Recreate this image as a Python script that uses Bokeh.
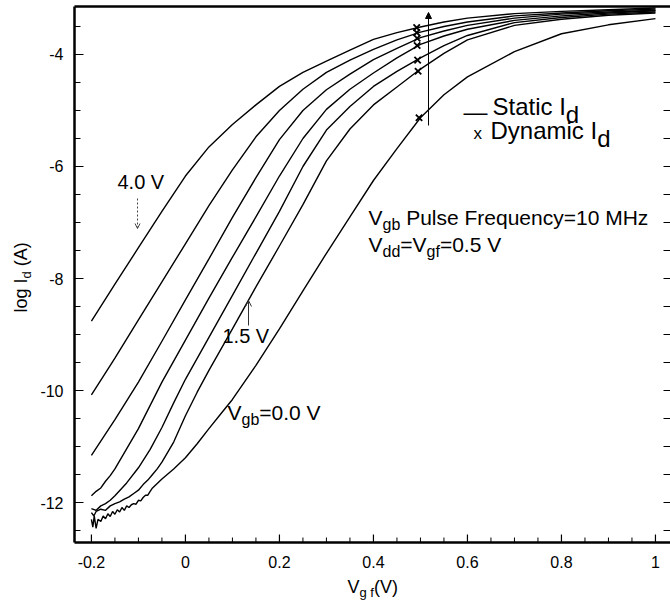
import math
from bokeh.plotting import figure
from bokeh.models import Range1d, Label, Arrow, NormalHead, OpenHead
from bokeh.embed import file_html
from bokeh.resources import INLINE

# ---------------- data ----------------
vgb_names = ["4.0 V", "3.5 V", "3.0 V", "2.5 V", "2.0 V", "1.5 V", "0.0 V"]

vgf_common = [-0.2, -0.15, -0.1, -0.05, 0.0, 0.05, 0.1, 0.15, 0.2, 0.25, 0.3, 0.35,
              0.4, 0.45, 0.5, 0.55, 0.6, 0.7, 0.8, 0.9, 1.0]
log_id_4v0 = [-8.76, -8.10, -7.45, -6.80, -6.17, -5.65, -5.25, -4.90, -4.57, -4.32, -4.12, -3.92,
              -3.73, -3.61, -3.51, -3.42, -3.35, -3.27, -3.23, -3.20, -3.17]
log_id_3v5 = [-10.08, -9.42, -8.74, -8.06, -7.38, -6.70, -6.06, -5.47, -5.00, -4.62, -4.32, -4.10,
              -3.91, -3.74, -3.60, -3.50, -3.42, -3.31, -3.26, -3.22, -3.19]
log_id_3v0 = [-11.16, -10.52, -9.85, -9.12, -8.38, -7.65, -6.91, -6.20, -5.52, -5.00, -4.63, -4.35,
              -4.09, -3.89, -3.70, -3.58, -3.48, -3.35, -3.28, -3.24, -3.21]

vgf_2v5 = [-0.2, -0.19, -0.18, -0.17, -0.16, -0.15, -0.1, -0.05, 0.0, 0.05, 0.1, 0.15, 0.2, 0.25,
           0.3, 0.35, 0.4, 0.45, 0.5, 0.55, 0.6, 0.7, 0.8, 0.9, 1.0]
log_id_2v5 = [-11.88, -11.80, -11.74, -11.62, -11.52, -11.40, -10.68, -9.85, -9.10, -8.35, -7.62,
              -6.90, -6.17, -5.50, -4.98, -4.62, -4.33, -4.06, -3.82, -3.67, -3.55, -3.39, -3.31,
              -3.26, -3.22]

vgf_2v0 = [-0.2, -0.19, -0.18, -0.17, -0.16, -0.15, -0.125, -0.1, -0.075, -0.05, -0.025, 0.0, 0.05,
           0.1, 0.15, 0.2, 0.25, 0.3, 0.35, 0.4, 0.45, 0.5, 0.55, 0.6, 0.7, 0.8, 0.9, 1.0]
log_id_2v0 = [-12.11, -12.14, -12.06, -12.02, -11.96, -11.88, -11.65, -11.38, -11.05, -10.66, -10.22,
              -9.80, -9.05, -8.30, -7.55, -6.80, -6.00, -5.35, -4.93, -4.57, -4.30, -4.06, -3.84,
              -3.66, -3.43, -3.34, -3.28, -3.24]

vgf_1v5 = [-0.2, -0.195, -0.19, -0.18, -0.17, -0.16, -0.15, -0.14, -0.13, -0.12, -0.11, -0.1, -0.09,
           -0.08, -0.07, -0.06, -0.05, -0.025, 0.0, 0.025, 0.05, 0.1, 0.15, 0.2, 0.25, 0.3, 0.35,
           0.4, 0.45, 0.5, 0.55, 0.6, 0.7, 0.8, 0.9, 1.0]
log_id_1v5 = [-12.18, -12.24, -12.16, -12.12, -12.14, -12.06, -12.02, -11.99, -11.94, -11.90, -11.84,
              -11.78, -11.68, -11.60, -11.50, -11.40, -11.28, -10.92, -10.45, -10.03, -9.64, -8.90,
              -8.15, -7.42, -6.68, -5.90, -5.33, -4.90, -4.58, -4.26, -3.98, -3.74, -3.48, -3.37,
              -3.30, -3.26]

vgf_0v0 = [-0.2, -0.197, -0.194, -0.19, -0.186, -0.18, -0.175, -0.17, -0.165, -0.16, -0.155, -0.15,
           -0.145, -0.14, -0.135, -0.13, -0.125, -0.12, -0.115, -0.11, -0.105, -0.1, -0.095, -0.09,
           -0.085, -0.08, -0.075, -0.07, -0.06, -0.05, -0.025, 0.0, 0.025, 0.05, 0.075, 0.1, 0.15,
           0.2, 0.25, 0.3, 0.35, 0.4, 0.45, 0.5, 0.55, 0.6, 0.7, 0.8, 0.9, 1.0]
log_id_0v0 = [-12.30, -12.44, -12.24, -12.46, -12.30, -12.34, -12.24, -12.29, -12.20, -12.25, -12.16,
              -12.21, -12.13, -12.17, -12.09, -12.14, -12.06, -12.09, -12.04, -12.02, -12.03, -11.96,
              -11.97, -11.91, -11.87, -11.87, -11.80, -11.74, -11.66, -11.58, -11.40, -11.20, -10.95,
              -10.68, -10.42, -10.16, -9.55, -8.90, -8.22, -7.55, -6.90, -6.25, -5.68, -5.13, -4.72,
              -4.40, -3.95, -3.63, -3.47, -3.36]

dyn_vgf = [0.492, 0.492, 0.493, 0.493, 0.494, 0.495, 0.497]
dyn_log_id = [-3.52, -3.61, -3.71, -3.84, -4.10, -4.30, -5.13]

x_ticks = [-0.2, 0.0, 0.2, 0.4, 0.6, 0.8, 1.0]
x_tick_labels = ["-0.2", "0", "0.2", "0.4", "0.6", "0.8", "1"]
x_minor = [-0.15, -0.1, -0.05, 0.05, 0.1, 0.15, 0.25, 0.3, 0.35, 0.45, 0.5, 0.55, 0.65, 0.7, 0.75,
           0.85, 0.9, 0.95]
y_ticks = [-12.0, -10.0, -8.0, -6.0, -4.0]
y_tick_labels = ["-12", "-10", "-8", "-6", "-4"]
y_minor = [-12.5, -11.5, -11.0, -10.5, -9.5, -9.0, -8.5, -7.5, -7.0, -6.5, -5.5, -5.0, -4.5, -3.5]

curves = [
    (vgf_common, log_id_4v0),
    (vgf_common, log_id_3v5),
    (vgf_common, log_id_3v0),
    (vgf_2v5, log_id_2v5),
    (vgf_2v0, log_id_2v0),
    (vgf_1v5, log_id_1v5),
    (vgf_0v0, log_id_0v0),
]

# ---------------- geometry ----------------
FONT = "Liberation Sans"
W, H = 670, 603
LEFT, TOP, RIGHT_EDGE, BOTTOM = 74, 6, 670, 542      # plot box edges in page pixels
X0, X1 = -0.236, 1.032                               # data values at the box edges
Y0, Y1 = -12.714, -3.143
PX = (X1 - X0) / (RIGHT_EDGE - LEFT)                 # data units per pixel
PY = (Y1 - Y0) / (BOTTOM - TOP)


def dx(px):
    return X0 + (px - LEFT) * PX


def dy(py):
    return Y1 - (py - TOP) * PY


# one frame covering the whole page, so nothing outside the box gets clipped
p = figure(width=W, height=H, x_range=Range1d(dx(0), dx(W)), y_range=Range1d(dy(H), dy(0)),
           output_backend="svg", toolbar_location=None, min_border=0,
           x_axis_location=None, y_axis_location=None)
p.background_fill_color = "white"
p.border_fill_color = "white"
p.outline_line_color = None
p.grid.visible = False

# ---------------- axes (box, ticks, tick labels) ----------------
BLK = "black"
n, m = len(x_ticks), len(y_ticks)
p.segment(x0=x_ticks, y0=[Y0] * n, x1=x_ticks, y1=[Y0 + 8 * PY] * n, line_color=BLK, line_width=1.2)
p.segment(x0=x_minor, y0=[Y0] * len(x_minor), x1=x_minor, y1=[Y0 + 5 * PY] * len(x_minor),
          line_color=BLK, line_width=1.0)
p.segment(x0=[X0] * m, y0=y_ticks, x1=[X0 + 9 * PX] * m, y1=y_ticks, line_color=BLK, line_width=1.2)
p.segment(x0=[X0] * len(y_minor), y0=y_minor, x1=[X0 + 6 * PX] * len(y_minor), y1=y_minor,
          line_color=BLK, line_width=1.0)
right_ticks = y_ticks + y_minor
p.segment(x0=[X1 - 7 * PX] * len(right_ticks), y0=right_ticks, x1=[X1] * len(right_ticks),
          y1=right_ticks, line_color=BLK, line_width=1.0)
p.segment(x0=[X0, X0, X0], y0=[Y0, Y0, Y1], x1=[X1, X0, X1], y1=[Y0, Y1, Y1],
          line_color=BLK, line_width=2.5)

for t, s in zip(x_ticks, x_tick_labels):
    p.add_layout(Label(x=t, y=dy(561), text=s, text_font=FONT, text_font_size="16px",
                       text_color=BLK, text_align="center", text_baseline="middle"))
for t, s in zip(y_ticks, y_tick_labels):
    p.add_layout(Label(x=dx(63), y=t, text=s, text_font=FONT, text_font_size="16px",
                       text_color=BLK, text_align="right", text_baseline="middle"))

# ---------------- curves and dynamic points ----------------
for xs, ys in curves:
    p.line(xs, ys, line_color=BLK, line_width=1.4)

p.scatter(dyn_vgf, dyn_log_id, marker="x", size=9, line_color=BLK, line_width=1.8)

# ---------------- texts ----------------
CW = {" ": 278, "(": 333, ")": 333, ".": 278, "=": 584, "-": 333, "A": 667, "D": 722, "F": 611,
      "H": 722, "I": 278, "M": 833, "P": 667, "S": 667, "V": 667, "a": 556, "b": 556, "c": 500,
      "d": 556, "e": 556, "f": 278, "g": 556, "i": 222, "l": 222, "m": 833, "n": 556, "o": 556,
      "q": 556, "r": 333, "s": 500, "t": 278, "u": 556, "y": 500, "z": 500, "x": 500, "—": 1000}
for ch in "0123456789":
    CW[ch] = 556


def text_width(t, size):
    return sum(CW.get(c, 556) for c in t) * size / 1000.0


def add_text(parts, px, py, angle=0.0):
    """parts: (text, font px, baseline drop px); (px, py) = start of the first baseline."""
    cur = 0.0
    for text, size, drop in parts:
        body = text.lstrip(" ")
        cur += text_width(text[:len(text) - len(body)], size)
        if angle == 0.0:
            lx, ly = px + cur, py + drop - 0.358 * size
        else:
            lx, ly = px + drop - 0.358 * size, py - cur
        p.add_layout(Label(x=dx(lx), y=dy(ly), text=body, text_font=FONT,
                           text_font_size=f"{size}px", text_color=BLK,
                           text_align="left", text_baseline="middle", angle=angle))
        cur += text_width(body, size)


add_text([("4.0 V", 20, 0)], 117, 189)
add_text([("1.5 V", 20, 0)], 222, 343)
add_text([("V", 21, 0), ("gb", 16, 5), ("=0.0 V", 21, 0)], 227, 420)
add_text([("V", 21, 0), ("gb", 16, 5), (" Pulse Frequency=10 MHz", 21, 0)], 368, 225)
add_text([("V", 21, 0), ("dd", 16, 5), ("=V", 21, 0), ("gf", 16, 5), ("=0.5 V", 21, 0)], 368, 252)
add_text([("—", 24, 0)], 463, 120)
add_text([("Static I", 24, 0), ("d", 24, 8)], 492, 115)
add_text([("x", 17, 0)], 473, 139)
add_text([("Dynamic I", 24, 0), ("d", 24, 8)], 490, 139)
add_text([("V", 18, 0), ("g f", 13, 4), ("(V)", 18, 0)], 347, 593)
add_text([("log I", 18, 0), ("d", 13, 4), (" (A)", 18, 0)], 27, 312, angle=math.pi / 2)

# ---------------- arrows ----------------
p.add_layout(Arrow(x_start=dx(137), y_start=dy(198), x_end=dx(137), y_end=dy(228),
                   line_color="#444444", line_width=1, line_dash="2 2",
                   end=OpenHead(size=5, line_color="#444444", line_width=1)))
p.add_layout(Arrow(x_start=dx(248), y_start=dy(325), x_end=dx(248), y_end=dy(300),
                   line_color="#333333", line_width=1,
                   end=OpenHead(size=6, line_color="#333333", line_width=1)))
p.add_layout(Arrow(x_start=dx(428), y_start=dy(125), x_end=dx(428), y_end=dy(12),
                   line_color=BLK, line_width=1,
                   end=NormalHead(size=6, fill_color=BLK, line_color=BLK)))

open("out.html", "w").write(file_html(p, INLINE))
